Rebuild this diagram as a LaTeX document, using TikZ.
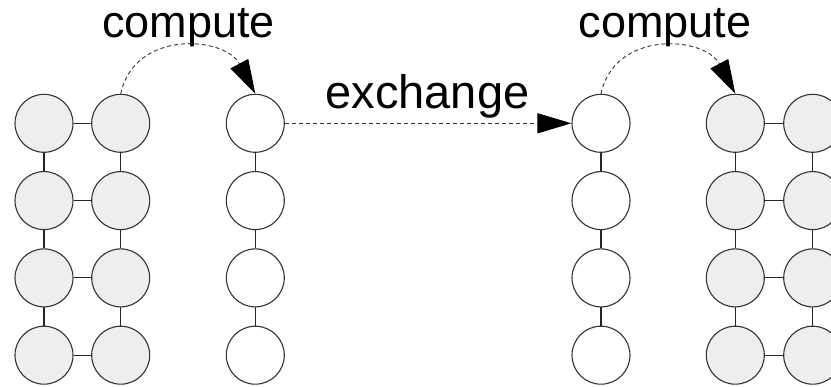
\documentclass[tikz,border=0pt]{standalone}
\usepackage{fontspec}
\setmainfont{Liberation Sans}
\usetikzlibrary{arrows.meta}
\begin{document}
\begin{tikzpicture}[x=1pt,y=1pt,
  cnode/.style={circle, draw=black!80, line width=1.1pt, minimum size=58pt, inner sep=0pt},
  gnode/.style={cnode, fill=gray!13},
  wnode/.style={cnode, fill=white},
  link/.style={draw=black!85, line width=1.1pt},
  flow/.style={draw=black!80, line width=0.9pt, dash pattern=on 4pt off 3pt, -{Triangle[length=34pt,width=20pt,color=black]}},
  lbl/.style={font=\fontsize{45}{54}\selectfont, anchor=base, inner sep=0pt}]
\useasboundingbox (0,0) rectangle (831,-387);
\clip (0,0) rectangle (831,-387);
\foreach \i/\y in {1/123.3,2/200.6,3/277.9,4/355.2}{
  \node[gnode] (A\i) at (44,-\y) {};
  \node[gnode] (B\i) at (120.7,-\y) {};
  \node[wnode] (C\i) at (255.3,-\y) {};
  \node[wnode] (D\i) at (601,-\y) {};
  \node[gnode] (E\i) at (735.3,-\y) {};
  \node[gnode] (F\i) at (812.7,-\y) {};
}
\foreach \i in {1,...,4}{
  \draw[link] (A\i) -- (B\i);
  \draw[link] (E\i) -- (F\i);
}
\foreach \i/\j in {1/2,2/3,3/4}{
  \draw[link] (A\i) -- (A\j);
  \draw[link] (B\i) -- (B\j);
  \draw[link] (C\i) -- (C\j);
  \draw[link] (D\i) -- (D\j);
  \draw[link] (E\i) -- (E\j);
  \draw[link] (F\i) -- (F\j);
}
\draw[flow] (B1.north) to[out=78,in=118,looseness=1.25] (C1.north);
\draw[flow] (D1.north) to[out=78,in=118,looseness=1.25] (E1.north);
\draw[flow] (C1.east) -- (D1.west);
\node[lbl] (t1) at (188.5,-37.3) {compute};
\node[lbl] (t2) at (665,-37.3) {compute};
\node[lbl, font=\fontsize{47}{56}\selectfont] (t3) at (427.5,-109) {exchange};
\end{tikzpicture}
\end{document}
